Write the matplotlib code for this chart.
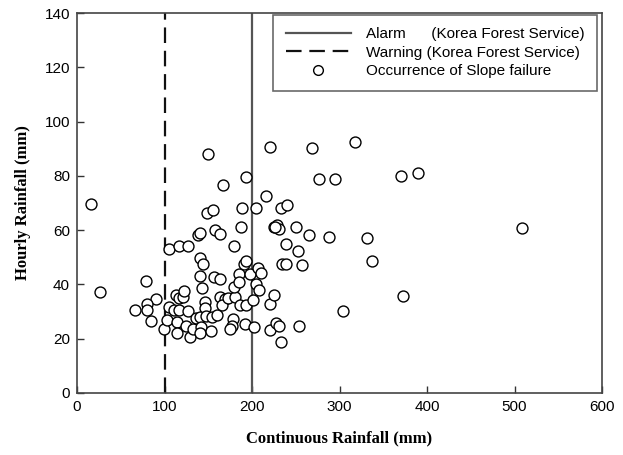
import matplotlib
matplotlib.use("Agg")
import matplotlib.pyplot as plt
from matplotlib.lines import Line2D

# Continuous rainfall (mm) and hourly rainfall (mm) at slope-failure occurrences
continuous_rainfall = [
    16, 26, 79, 90, 80, 80, 66, 85, 99, 103, 105, 105, 111, 113, 116, 114, 114,
    116, 117, 121, 122, 127, 127, 124, 129, 132, 136, 138, 141, 141, 144, 141,
    143, 146, 146, 141, 147, 154, 160, 142, 141, 153, 149, 155, 150, 156, 163,
    158, 163, 167, 163, 169, 166, 173, 181, 179, 179, 178, 177, 175, 186, 193,
    192, 202, 201, 185, 185, 198, 191, 193, 187, 188, 193, 205, 204, 208, 207,
    210, 216, 221, 220, 225, 220, 227, 231, 233, 225, 229, 231, 226, 233, 240,
    239, 234, 239, 250, 252, 257, 254, 265, 269, 277, 295, 288, 304, 318, 331,
    337, 370, 372, 390, 508,
]
hourly_rainfall = [
    69.6, 37.1, 41.2, 34.6, 32.9, 30.7, 30.6, 26.7, 23.7, 26.9, 53.1, 31.8, 30.7,
    36.0, 35.1, 26.3, 22.2, 54.2, 30.4, 35.5, 37.7, 54.0, 30.2, 24.5, 20.6, 23.5,
    27.8, 58.2, 58.8, 49.6, 47.6, 43.1, 38.6, 33.6, 31.3, 28.0, 28.2, 28.0, 28.7,
    24.2, 22.1, 22.8, 66.2, 67.4, 88.2, 42.6, 42.0, 60.1, 58.6, 76.7, 35.3, 34.5,
    32.6, 34.9, 35.3, 39.0, 54.3, 27.3, 24.7, 23.7, 32.3, 32.6, 25.6, 24.2, 34.2,
    43.8, 41.0, 43.7, 47.5, 48.6, 61.3, 68.3, 79.6, 68.3, 40.3, 38.1, 46.1, 44.2,
    72.7, 90.6, 32.7, 36.2, 23.3, 25.7, 24.6, 18.7, 61.3, 62.0, 60.3, 61.0, 68.3,
    69.1, 54.8, 47.6, 47.6, 61.2, 52.2, 47.3, 24.8, 58.1, 90.2, 78.7, 78.7, 57.6,
    30.2, 92.6, 57.1, 48.6, 80.1, 35.6, 81.1, 60.7,
]
alarm_level = 200
warning_level = 100
x_ticks = [0, 100, 200, 300, 400, 500, 600]
y_ticks = [0, 20, 40, 60, 80, 100, 120, 140]

plt.rcParams["font.family"] = ["Liberation Sans", "DejaVu Sans"]

fig = plt.figure(figsize=(6.23, 4.55), dpi=100)
ax = fig.add_axes([0.1236, 0.1363, 0.8427, 0.8351])

ax.axvline(alarm_level, color="#555555", lw=1.6, zorder=2)
ax.axvline(warning_level, color="#111111", lw=1.6, dashes=(7, 3.5), zorder=2)
ax.scatter(continuous_rainfall, hourly_rainfall, s=62, facecolors="white",
           edgecolors="black", linewidths=1.0, zorder=3)

ax.set_xlim(0, 600)
ax.set_ylim(0, 140)
ax.set_xticks(x_ticks)
ax.set_yticks(y_ticks)
ax.tick_params(direction="in", length=5, width=1, labelsize=11, color="#333333",
               pad=5)
for s in ax.spines.values():
    s.set_color("#444444")
    s.set_linewidth(1.2)

ax.set_xlabel("Continuous Rainfall (mm)", family="Liberation Serif",
              fontweight="bold", fontsize=12, labelpad=12)
ax.set_ylabel("Hourly Rainfall (mm)", family="Liberation Serif",
              fontweight="bold", fontsize=12, labelpad=10)

handles = [
    Line2D([], [], color="#555555", lw=1.6),
    Line2D([], [], color="#111111", lw=1.6, dashes=(7, 3.5)),
    Line2D([], [], marker="o", ls="none", markersize=7, markerfacecolor="white",
           markeredgecolor="black", markeredgewidth=1.0),
]
labels = [
    "Alarm      (Korea Forest Service)",
    "Warning (Korea Forest Service)",
    "Occurrence of Slope failure",
]
leg = ax.legend(handles, labels, loc="upper right",
                bbox_to_anchor=(0.99, 0.995), fontsize=11, frameon=True,
                fancybox=False, handlelength=4.25, handletextpad=1.0,
                borderpad=0.8, labelspacing=0.3, borderaxespad=0.0)
leg.get_frame().set_edgecolor("#444444")
leg.get_frame().set_linewidth(1.2)

fig.savefig("out.png", dpi=100)
